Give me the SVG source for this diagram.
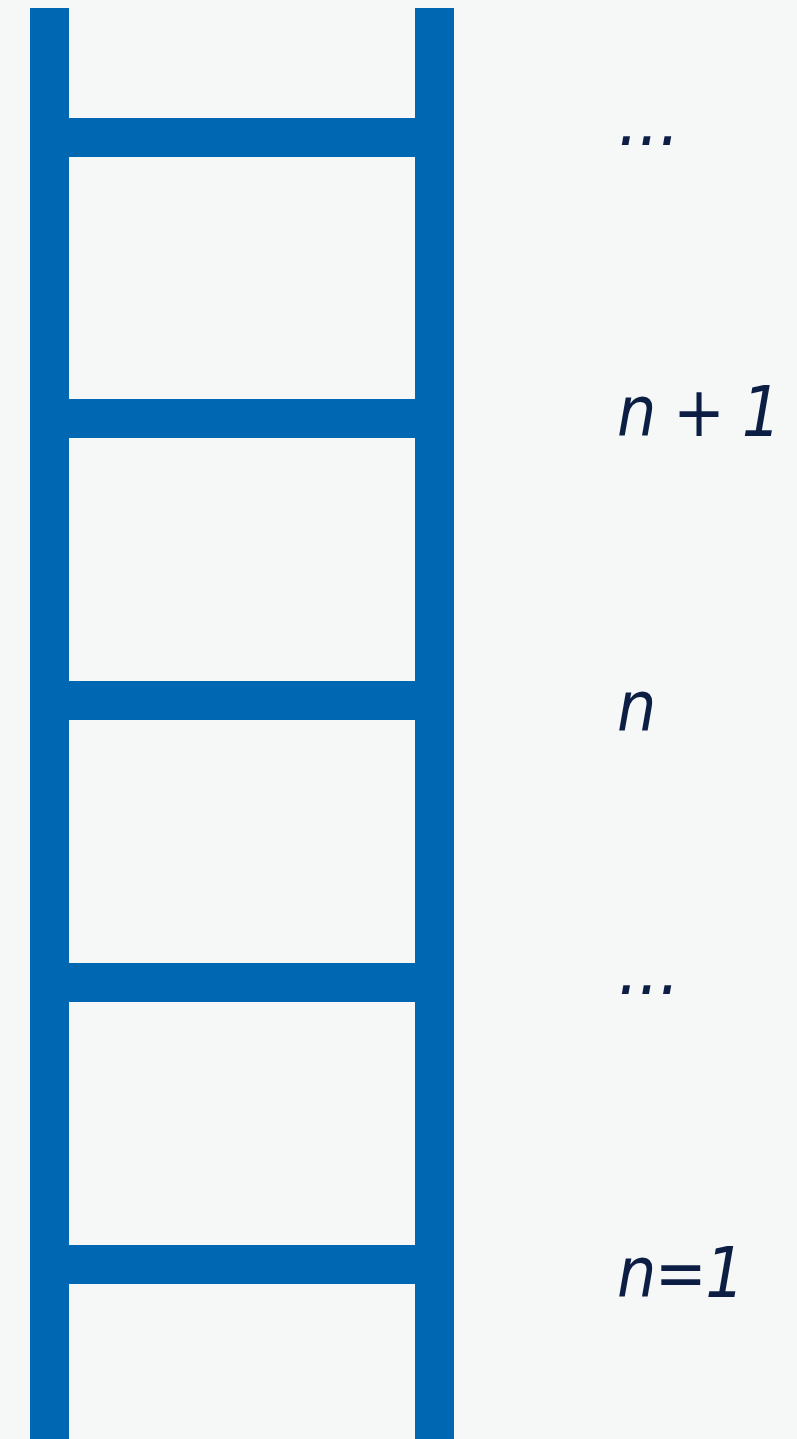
<svg xmlns="http://www.w3.org/2000/svg" width="797" height="1439" viewBox="0 0 797 1439">
<style>
.bar{fill:#0067b3}
.lbl{font-family:"DejaVu Sans Condensed","DejaVu Sans",sans-serif;font-stretch:condensed;font-style:oblique;font-size:69px;letter-spacing:-1.5px;fill:#0d1e44}
.dots{letter-spacing:0;font-size:72px}
</style>
<rect width="797" height="1439" fill="#f6f8f8"/>
<g id="ladder">
<rect class="bar" x="30" y="8" width="39" height="1431"/>
<rect class="bar" x="415" y="8" width="39" height="1431"/>
<rect class="bar" x="69" y="118" width="346" height="39"/>
<rect class="bar" x="69" y="399" width="346" height="39"/>
<rect class="bar" x="69" y="681" width="346" height="39"/>
<rect class="bar" x="69" y="963" width="346" height="39"/>
<rect class="bar" x="69" y="1245" width="346" height="39"/>
</g>
<g id="labels">
<text class="lbl dots" x="618" y="145">...</text>
<text class="lbl" x="617" y="436" xml:space="preserve">n + 1</text>
<text class="lbl" x="617" y="731">n</text>
<text class="lbl dots" x="618" y="994">...</text>
<text class="lbl" x="617" y="1297">n=1</text>
</g>
</svg>
